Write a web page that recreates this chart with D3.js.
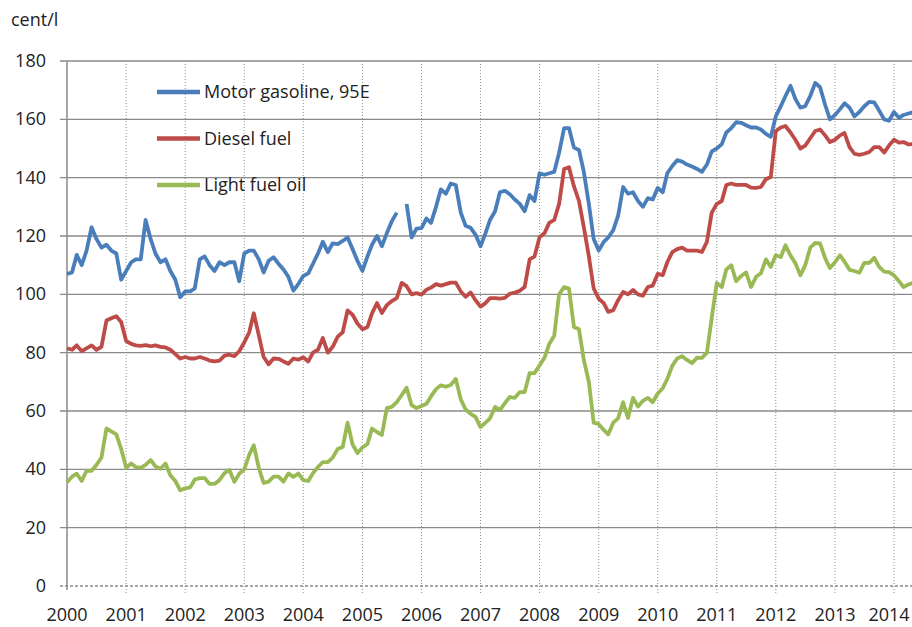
<!DOCTYPE html>
<html>
<head>
<meta charset="utf-8">
<script src="https://cdn.jsdelivr.net/npm/d3@7"></script>
<style>
  body { margin: 0; background: #fff; }
  svg { display: block; font-family: "Open Sans", sans-serif; }
</style>
</head>
<body>
<svg id="chart"></svg>
<script>
// Data section *****************************************************************
// Monthly prices, cent/l, starting January 2000
const startMonth = new Date(2000, 0, 1);

const seriesNames = ["Motor gasoline, 95E", "Diesel fuel", "Light fuel oil"];
const seriesColors = ["#4a7ebb", "#be4b48", "#98b954"];

const gasoline = [
    107, 107.5, 113.5, 110, 115, 123, 119, 116, 117, 115, 114, 105,
    108, 111, 112, 112, 125.5, 119, 114, 111, 112, 108, 105, 99,
    101, 101, 102, 112, 113, 110, 108, 111, 110, 111, 111, 104.5,
    114, 115, 115, 112, 107.5, 111.5, 112.7, 110.5, 108.5, 106, 101.3, 103.5,
    106.3, 107.2, 110.5, 114, 118, 114.5, 117.5, 117.2, 118.3, 119.5, 115.5, 111.5,
    108, 113, 117, 120, 116.5, 121, 125, 128, null, 131, 119.5, 122.5,
    122.7, 126, 124.5, 130, 136, 134.5, 138, 137.5, 128, 123.5, 122.8, 120.5,
    116.5, 121, 125.5, 128.5, 135, 135.5, 134.3, 132.5, 131, 128.5, 134, 132,
    141.5, 141, 141.5, 142, 148.5, 157, 157, 150.3, 149.5, 142, 131, 119,
    115, 118, 119.5, 122, 127, 136.8, 134.5, 135, 132, 130, 133, 132.5,
    136.5, 135, 141.5, 144, 146, 145.5, 144.5, 143.8, 143, 142, 144.5, 149,
    150, 151.5, 155.5, 157, 159, 158.8, 158, 157.2, 157.2, 156.5, 155, 154,
    161, 164.5, 168, 171.5, 167, 164, 164.5, 168, 172.5, 171, 165, 160,
    161.5, 163.5, 165.5, 164, 161, 162.5, 164.5, 166, 165.8, 163, 160, 159.5,
    162.5, 160.5, 161.5, 162, 162.5
];

const diesel = [
    81.5, 81, 82.5, 80.5, 81.5, 82.5, 81, 82, 91, 91.8, 92.5, 90.5,
    84, 83, 82.5, 82.3, 82.6, 82.2, 82.5, 82, 81.8, 81, 79.5, 78,
    78.5, 78, 78, 78.5, 78, 77.3, 77, 77.3, 79, 79.3, 78.8, 80.5,
    83.5, 87, 93.5, 86, 78.5, 76, 78, 77.9, 77, 76.2, 78, 77.6,
    78.4, 77, 80, 81, 85, 80, 82, 85.5, 87, 94.5, 93, 90,
    88, 88.8, 93.5, 97, 93.6, 96.3, 97.7, 98.7, 103.9, 102.8, 100, 100.4,
    99.9, 101.6, 102.3, 103.5, 103, 103.5, 104, 104, 101, 99.2, 100.6, 98,
    95.8, 97, 98.7, 98.7, 98.5, 98.8, 100.2, 100.6, 101.2, 102.5, 112, 113,
    119.6, 121, 124.5, 125.5, 131, 143, 143.6, 137, 132, 123, 113, 102,
    98.5, 97, 94, 94.6, 98, 100.8, 100, 101.5, 100, 99.5, 102.5, 103,
    107, 106.6, 111, 114.5, 115.5, 116, 115, 115, 115, 114.5, 118, 128,
    131, 132, 137.5, 138, 137.5, 137.5, 137.5, 136.6, 136.5, 136.8, 139.5, 140.2,
    156, 157.2, 157.7, 155.5, 153, 150, 151, 153.5, 156, 156.5, 154.5, 152.2,
    153, 154.5, 155.3, 150.5, 148.2, 147.8, 148.2, 148.8, 150.5, 150.5, 148.6, 151,
    153, 152, 152.2, 151.4, 151.5
];

const lightFuelOil = [
    35.5, 37.5, 38.5, 36, 39.5, 39.5, 41.5, 44, 54, 53, 52, 47,
    40.5, 42, 40.8, 40.5, 41.5, 43.2, 41, 40.2, 42, 38, 36, 32.8,
    33.5, 33.8, 36.5, 37, 37, 35, 35, 36.3, 38.7, 39.8, 35.7, 38.5,
    40, 45, 48.3, 40.5, 35.3, 35.8, 37.5, 37.5, 35.8, 38.6, 37.4, 38.6,
    36.3, 36, 38.7, 40.8, 42.5, 42.5, 44, 47, 47.7, 56, 48.5, 45.6,
    47.5, 48.7, 54, 52.8, 51.8, 61, 61.4, 63, 65.5, 68, 62, 61,
    61.7, 62.5, 65, 67.5, 68.8, 68.3, 68.9, 71, 64, 60.5, 59, 58,
    54.5, 56, 57.5, 61.4, 60.3, 62.7, 64.8, 64.5, 66.5, 66.5, 73, 73,
    75.6, 78.3, 83, 85.8, 100, 102.5, 102, 88.8, 88, 77.5, 70, 56,
    55.5, 53.5, 52, 56, 57.5, 63, 57.6, 64.5, 61.5, 63.5, 64.5, 63,
    66, 67.8, 71, 75.5, 78, 78.8, 77.5, 76.4, 78.3, 78.2, 80, 92,
    103.9, 102.5, 108.5, 110, 104.5, 106.3, 107.5, 102.5, 106, 107.2, 112, 109.4,
    113.4, 112.8, 116.8, 113.3, 110.7, 106.5, 110, 116, 117.6, 117.5, 112.4, 109,
    111, 113.4, 111.2, 108.4, 108, 107.4, 110.8, 110.8, 112.5, 109.4, 107.8, 107.6,
    106.5, 104.5, 102.5, 103.4, 104
];

const yTicks = [0, 20, 40, 60, 80, 100, 120, 140, 160, 180];
const yearLabels = ["2000", "2001", "2002", "2003", "2004", "2005", "2006", "2007",
    "2008", "2009", "2010", "2011", "2012", "2013", "2014"];

/*******************************************************************************/

const width = 912, height = 627;
const plotLeft = 67, plotTop = 61, plotBottom = 586, plotRight = 912;

const svg = d3.select("#chart")
    .attr("width", width)
    .attr("height", height);

// Scales: year gridlines sit ~59 px apart, the plot runs off the right edge
const x = d3.scaleTime()
    .domain([new Date(2000, 0, 1), new Date(2014, 0, 1)])
    .range([plotLeft, 894]);

const y = d3.scaleLinear()
    .domain([0, 180])
    .range([plotBottom, plotTop]);

const years = yearLabels.map(d => new Date(+d, 0, 1));

// Horizontal gridlines (solid) with small ticks to the left of the axis
svg.append("g")
    .selectAll("line")
    .data(yTicks.filter(d => d > 0))
    .enter().append("line")
    .attr("x1", plotLeft - 7)
    .attr("x2", plotRight)
    .attr("y1", d => y(d))
    .attr("y2", d => y(d))
    .style("stroke", "#8a8a8a")
    .style("stroke-width", 1.3);

// Vertical year gridlines (dotted), they poke a little below the zero line
svg.append("g")
    .selectAll("line")
    .data(years.slice(1))
    .enter().append("line")
    .attr("x1", d => x(d))
    .attr("x2", d => x(d))
    .attr("y1", plotTop)
    .attr("y2", plotBottom + 7)
    .style("stroke", "#8f8f8f")
    .style("stroke-width", 1)
    .style("stroke-dasharray", "1,2");

// Zero line is dashed
svg.append("line")
    .attr("x1", plotLeft - 7)
    .attr("x2", plotRight)
    .attr("y1", y(0))
    .attr("y2", y(0))
    .style("stroke", "#8a8a8a")
    .style("stroke-width", 1.3)
    .style("stroke-dasharray", "3,2");

// Y axis line
svg.append("line")
    .attr("x1", plotLeft)
    .attr("x2", plotLeft)
    .attr("y1", plotTop)
    .attr("y2", plotBottom + 4)
    .style("stroke", "#8a8a8a")
    .style("stroke-width", 1.5);

// Y tick labels
svg.append("g")
    .selectAll("text")
    .data(yTicks)
    .enter().append("text")
    .attr("x", 46)
    .attr("y", d => y(d) + 6)
    .attr("text-anchor", "end")
    .style("font-size", "18px")
    .style("fill", "#222")
    .text(d => d);

// X tick labels (last one nudged so it stays inside the picture)
svg.append("g")
    .selectAll("text")
    .data(years)
    .enter().append("text")
    .attr("x", d => Math.min(x(d), width - 23))
    .attr("y", 621)
    .attr("text-anchor", "middle")
    .style("font-size", "18px")
    .style("fill", "#222")
    .text((d, i) => yearLabels[i]);

// Unit label
svg.append("text")
    .attr("x", 11)
    .attr("y", 26)
    .style("font-size", "18px")
    .style("fill", "#222")
    .text("cent/l");

// Lines
const allSeries = [gasoline, diesel, lightFuelOil];

const line = d3.line()
    .defined(d => d.value !== null)
    .x(d => x(d.date))
    .y(d => y(d.value));

allSeries.forEach((values, k) => {
    const points = values.map((v, i) => ({ date: d3.timeMonth.offset(startMonth, i), value: v }));
    svg.append("path")
        .datum(points)
        .attr("d", line)
        .style("fill", "none")
        .style("stroke", seriesColors[k])
        .style("stroke-width", 3.8)
        .style("stroke-linejoin", "round");
});

// Legend, top left inside the plot
const legend = svg.append("g")
    .selectAll("g")
    .data(seriesNames)
    .enter().append("g")
    .attr("transform", (d, i) => `translate(157, ${92 + i * 46.5})`);

legend.append("line")
    .attr("x1", 0)
    .attr("x2", 43)
    .style("stroke", (d, i) => seriesColors[i])
    .style("stroke-width", 4.5);

legend.append("text")
    .attr("x", 47)
    .attr("y", 6)
    .style("font-size", "18px")
    .style("fill", "#222")
    .text(d => d);
</script>
</body>
</html>
